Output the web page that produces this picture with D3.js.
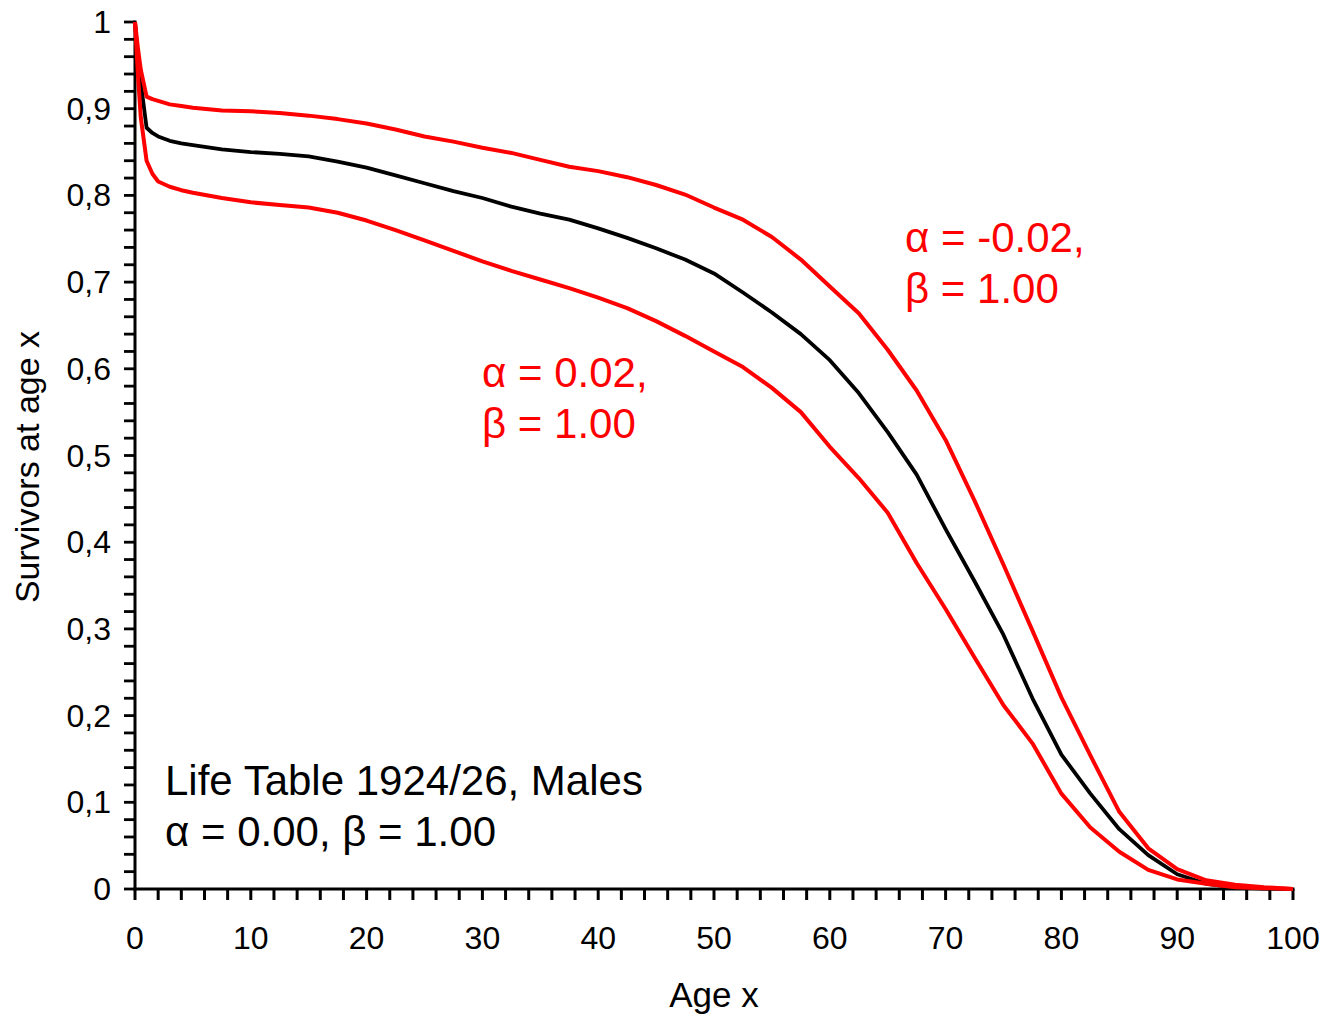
<!DOCTYPE html>
<html>
<head>
<meta charset="utf-8">
<script src="https://cdn.jsdelivr.net/npm/d3@7"></script>
<style>
  html, body { margin: 0; padding: 0; background: #fff; }
  svg { display: block; font-family: "Liberation Sans", Arial, sans-serif; }
</style>
</head>
<body>
<svg id="chart" width="1323" height="1014"></svg>
<script>
// Ages (years)
const ages = [0, 0.25, 0.5, 1, 1.5, 2, 3, 4, 5, 7.5, 10, 12.5, 15, 17.5, 20, 22.5, 25, 27.5, 30, 32.5, 35, 37.5, 40, 42.5, 45, 47.5, 50, 52.5, 55, 57.5, 60, 62.5, 65, 67.5, 70, 72.5, 75, 77.5, 80, 82.5, 85, 87.5, 90, 92.5, 95, 97.5, 100];
// alpha = 0.00, beta = 1.00 (black)
const base = [1.0, 0.96, 0.93, 0.878, 0.872, 0.868, 0.863, 0.860, 0.858, 0.853, 0.850, 0.848, 0.845, 0.839, 0.832, 0.823, 0.814, 0.805, 0.797, 0.787, 0.779, 0.772, 0.762, 0.751, 0.739, 0.726, 0.710, 0.688, 0.665, 0.640, 0.610, 0.572, 0.527, 0.478, 0.415, 0.355, 0.293, 0.220, 0.155, 0.110, 0.069, 0.039, 0.017, 0.006, 0.002, 0.0005, 0];
// alpha = -0.02, beta = 1.00 (upper red)
const alphaNeg = [1.0, 0.97, 0.945, 0.914, 0.911, 0.909, 0.905, 0.903, 0.901, 0.898, 0.897, 0.895, 0.892, 0.888, 0.883, 0.876, 0.868, 0.862, 0.855, 0.849, 0.841, 0.833, 0.828, 0.821, 0.812, 0.801, 0.786, 0.772, 0.752, 0.726, 0.695, 0.664, 0.622, 0.575, 0.518, 0.448, 0.374, 0.298, 0.221, 0.154, 0.089, 0.047, 0.023, 0.010, 0.005, 0.002, 0];
// alpha = 0.02, beta = 1.00 (lower red)
const alphaPos = [1.0, 0.94, 0.89, 0.840, 0.825, 0.816, 0.810, 0.806, 0.803, 0.797, 0.792, 0.789, 0.786, 0.780, 0.771, 0.760, 0.748, 0.736, 0.724, 0.713, 0.703, 0.693, 0.682, 0.670, 0.655, 0.638, 0.620, 0.602, 0.578, 0.550, 0.510, 0.474, 0.434, 0.376, 0.323, 0.267, 0.212, 0.168, 0.110, 0.071, 0.043, 0.022, 0.011, 0.006, 0.002, 0.001, 0];

const xTickValues = [0, 10, 20, 30, 40, 50, 60, 70, 80, 90, 100];
const yTickValues = [0, 0.1, 0.2, 0.3, 0.4, 0.5, 0.6, 0.7, 0.8, 0.9, 1];
const yTickLabels = ["0", "0,1", "0,2", "0,3", "0,4", "0,5", "0,6", "0,7", "0,8", "0,9", "1"];
const xTitle = "Age x";
const yTitle = "Survivors at age x";
const noteLines = ["Life Table 1924/26, Males", "α = 0.00, β = 1.00"];
const labelNeg = ["α = -0.02,", "β = 1.00"];
const labelPos = ["α = 0.02,", "β = 1.00"];

const svg = d3.select("#chart");
const x = d3.scaleLinear().domain([0, 100]).range([135, 1293]);
const y = d3.scaleLinear().domain([0, 1]).range([889, 22]);

// minor ticks
const xMinor = d3.range(0, 101, 2);
const yMinor = d3.range(0, 51).map(i => i * 0.02);

const g = svg.append("g");

// x minor ticks (below axis)
g.selectAll(".xt").data(xMinor).enter().append("line")
  .attr("x1", d => x(d)).attr("x2", d => x(d))
  .attr("y1", 889).attr("y2", 900)
  .attr("stroke", "#000").attr("stroke-width", 3);
// y minor ticks (left of axis)
g.selectAll(".yt").data(yMinor).enter().append("line")
  .attr("x1", 124).attr("x2", 135)
  .attr("y1", d => y(d)).attr("y2", d => y(d))
  .attr("stroke", "#000").attr("stroke-width", 2.8);

// axis lines
g.append("line").attr("x1", 135).attr("x2", 135).attr("y1", y(1) - 1.5).attr("y2", 890.5)
  .attr("stroke", "#000").attr("stroke-width", 3);
g.append("line").attr("x1", 133.5).attr("x2", x(100) + 1.5).attr("y1", 889).attr("y2", 889)
  .attr("stroke", "#000").attr("stroke-width", 3);

// tick labels
g.selectAll(".xl").data(xTickValues).enter().append("text")
  .attr("x", d => x(d)).attr("y", 949)
  .attr("text-anchor", "middle").attr("font-size", 32).attr("fill", "#000")
  .text(d => d);
g.selectAll(".yl").data(yTickValues).enter().append("text")
  .attr("x", 111).attr("y", d => y(d) + 11)
  .attr("text-anchor", "end").attr("font-size", 32).attr("fill", "#000")
  .text((d, i) => yTickLabels[i]);

// axis titles
g.append("text").attr("x", 714).attr("y", 1007).attr("text-anchor", "middle")
  .attr("font-size", 35).attr("fill", "#000").text(xTitle);
g.append("text").attr("transform", "translate(39,467) rotate(-90)").attr("text-anchor", "middle")
  .attr("font-size", 34).attr("fill", "#000").text(yTitle);

// lines
const line = d3.line().x(d => x(d[0])).y(d => y(d[1]));
const mk = arr => ages.map((a, i) => [a, arr[i]]);
g.append("path").attr("d", line(mk(base))).attr("fill", "none")
  .attr("stroke", "#000").attr("stroke-width", 3.8).attr("stroke-linejoin", "round");
g.append("path").attr("d", line(mk(alphaNeg))).attr("fill", "none")
  .attr("stroke", "#ff0000").attr("stroke-width", 4).attr("stroke-linejoin", "round");
g.append("path").attr("d", line(mk(alphaPos))).attr("fill", "none")
  .attr("stroke", "#ff0000").attr("stroke-width", 4).attr("stroke-linejoin", "round");

// annotations
function block(lines, x0, y0, color) {
  lines.forEach((t, i) => {
    g.append("text").attr("x", x0).attr("y", y0 + i * 51)
      .attr("font-size", 42).attr("fill", color).text(t);
  });
}
block(labelNeg, 905, 252, "#ff0000");
block(labelPos, 482, 387, "#ff0000");
block(noteLines, 165, 795, "#000");
</script>
</body>
</html>
